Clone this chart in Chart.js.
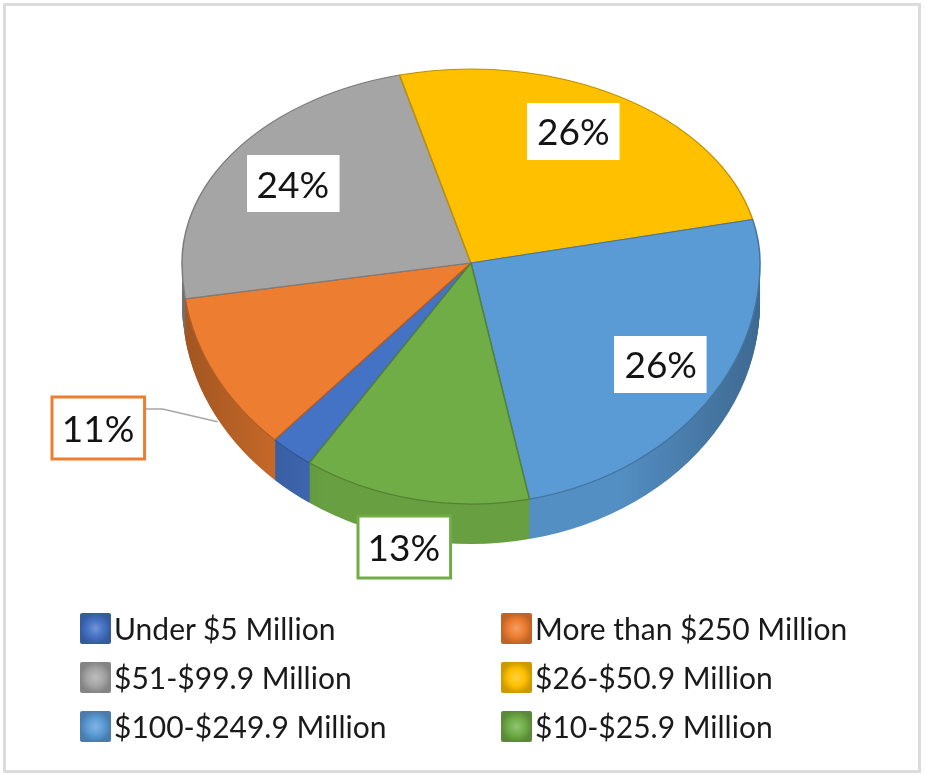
<!DOCTYPE html>
<html>
<head>
<meta charset="utf-8">
<title>Revenue bands</title>
<script src="https://cdn.jsdelivr.net/npm/chart.js@4.4.1/dist/chart.umd.min.js"></script>
<style>
  body { margin: 0; background: #fff; width: 927px; height: 775px; overflow: hidden; }
  #frame { position: absolute; left: 3px; top: 3px; width: 918px; height: 770px; border: 3px solid #dcdcdc; box-sizing: border-box; }
  #myChart { position: absolute; left: 0; top: 0; }
  .item { position: absolute; display: flex; align-items: center; font-family: Lato, sans-serif; font-size: 30px; color: #1a1a1a; white-space: nowrap; }
  .sw { display: inline-block; width: 31px; height: 31px; border-radius: 2px; margin-right: 3px; }
</style>
</head>
<body>
<div id="frame"></div>
<canvas id="myChart" width="927" height="775"></canvas>
<div id="legend"></div>
<script>
// revenue bands, in legend order
const categories = ['Under $5 Million', 'More than $250 Million', '$51-$99.9 Million',
                    '$26-$50.9 Million', '$100-$249.9 Million', '$10-$25.9 Million'];
// share of respondents (%); the smallest band carries no label
const shares = [2.5, 11, 24, 26, 26, 13];
const labelled = [false, true, true, true, true, true];

const topColors = ['#4472c4', '#ed7d31', '#a5a5a5', '#ffc000', '#5b9bd5', '#70ad47'];

// where the tilted pie sits on the page
const APEX_X = 471, APEX_Y = 263;
const RX = 289, RY_TOP = 194, RY_BOT = 241, DEPTH = 40;
const START_ANGLE = 214;

// label placement: fraction of the radius along each slice's middle, plus a small nudge
const labelRadius = [0, 1.46, 0.74, 0.76, 0.78, 1.2];
const labelNudge = [[0, 0], [0, 0], [0, 0], [-12, -6], [0, 0], [0, 0]];
const outsideLabel = [false, true, false, false, false, true];

function shade(hex, f) {
  const n = parseInt(hex.slice(1), 16);
  let r = n >> 16, g = (n >> 8) & 255, b = n & 255;
  if (f < 0) { r *= 1 + f; g *= 1 + f; b *= 1 + f; }
  else { r += (255 - r) * f; g += (255 - g) * f; b += (255 - b) * f; }
  return `rgb(${Math.round(r)},${Math.round(g)},${Math.round(b)})`;
}

// draw one half of the pie (top or bottom) squashed into screen space
function drawHalf(chart, half, shift, fills, withBorder) {
  const ctx = chart.ctx;
  const arcs = chart.getDatasetMeta(0).data;
  const R = arcs[0].outerRadius, cx0 = arcs[0].x, cy0 = arcs[0].y;
  const sx = RX / R, sy = (half === 'top' ? RY_TOP : RY_BOT) / R;
  ctx.save();
  ctx.beginPath();
  if (half === 'top') ctx.rect(0, 0, chart.width, APEX_Y + shift);
  else ctx.rect(0, APEX_Y + shift, chart.width, chart.height);
  ctx.clip();
  ctx.setTransform(sx, 0, 0, sy, APEX_X - sx * cx0, APEX_Y + shift - sy * cy0);
  arcs.forEach((arc, i) => {
    const saved = arc.options;
    const fill = typeof fills[i] === 'function' ? fills[i](ctx, cx0, R) : fills[i];
    arc.options = Object.assign({}, saved, {
      backgroundColor: fill,
      borderWidth: withBorder ? saved.borderWidth : 0
    });
    arc.draw(ctx);
    arc.options = saved;
  });
  ctx.restore();
}

// side wall: darker towards the left and right ends
const sideFills = topColors.map(c => (ctx, cx0, R) => {
  const g = ctx.createLinearGradient(cx0 - R, 0, cx0 + R, 0);
  g.addColorStop(0, shade(c, -0.32));
  g.addColorStop(0.25, shade(c, -0.08));
  g.addColorStop(0.75, shade(c, -0.08));
  g.addColorStop(1, shade(c, -0.32));
  return g;
});

const pie3d = {
  id: 'pie3d',
  beforeDatasetsDraw(chart) {
    for (let d = DEPTH; d > 0; d--) drawHalf(chart, 'bottom', d, sideFills, false);
    drawHalf(chart, 'top', 0, topColors, true);
    drawHalf(chart, 'bottom', 0, topColors, true);
    return false;
  }
};

function toScreen(angle, r) {
  const c = Math.cos(angle), s = Math.sin(angle);
  return { x: APEX_X + RX * r * c, y: APEX_Y + (s < 0 ? RY_TOP : RY_BOT) * r * s };
}

const valueLabels = {
  id: 'valueLabels',
  afterDraw(chart) {
    const ctx = chart.ctx;
    const arcs = chart.getDatasetMeta(0).data;
    ctx.save();
    ctx.font = '37px Lato';
    ctx.textAlign = 'center';
    ctx.textBaseline = 'middle';
    arcs.forEach((arc, i) => {
      if (!labelled[i]) return;
      const mid = (arc.startAngle + arc.endAngle) / 2;
      const p = toScreen(mid, labelRadius[i]);
      p.x += labelNudge[i][0];
      p.y += labelNudge[i][1];
      const txt = shares[i] + '%';
      const w = ctx.measureText(txt).width + 20, h = outsideLabel[i] ? 62 : 57;
      const x0 = Math.round(p.x - w / 2), y0 = Math.round(p.y - h / 2);
      if (i === 1) {
        // leader line from the box to the slice wall
        const rim = toScreen(mid, 1);
        ctx.strokeStyle = '#a6a6a6';
        ctx.lineWidth = 1.5;
        ctx.beginPath();
        ctx.moveTo(x0 + w, y0 + 12);
        ctx.lineTo(x0 + w + 18, y0 + 12);
        ctx.lineTo(rim.x + 2, rim.y + DEPTH + 6);
        ctx.stroke();
      }
      ctx.fillStyle = '#ffffff';
      ctx.fillRect(x0, y0, w, h);
      if (outsideLabel[i]) {
        ctx.strokeStyle = topColors[i];
        ctx.lineWidth = 3;
        ctx.strokeRect(x0, y0, w, h);
      }
      ctx.fillStyle = '#141414';
      ctx.fillText(txt, p.x, p.y + 2);
    });
    ctx.restore();
  }
};

const chart = new Chart(document.getElementById('myChart'), {
  type: 'pie',
  data: {
    labels: categories,
    datasets: [{
      data: shares,
      backgroundColor: topColors,
      borderColor: topColors.map(c => shade(c, -0.25)),
      borderWidth: 2
    }]
  },
  options: {
    responsive: false,
    animation: false,
    devicePixelRatio: 1,
    rotation: START_ANGLE,
    layout: { padding: 0 },
    plugins: { legend: { display: false }, tooltip: { enabled: false } }
  },
  plugins: [pie3d, valueLabels]
});

// two-column legend under the pie
const legendEl = document.getElementById('legend');
categories.forEach((name, i) => {
  const item = document.createElement('div');
  item.className = 'item';
  item.style.left = (i % 2 ? 501 : 80) + 'px';
  item.style.top = (610 + Math.floor(i / 2) * 49) + 'px';
  const sw = document.createElement('span');
  sw.className = 'sw';
  const c = topColors[i];
  sw.style.background = `radial-gradient(closest-side, ${shade(c, 0.25)} 0%, ${c} 55%, ${shade(c, -0.2)} 100%)`;
  const tx = document.createElement('span');
  tx.textContent = name;
  item.appendChild(sw);
  item.appendChild(tx);
  legendEl.appendChild(item);
});
</script>
</body>
</html>
